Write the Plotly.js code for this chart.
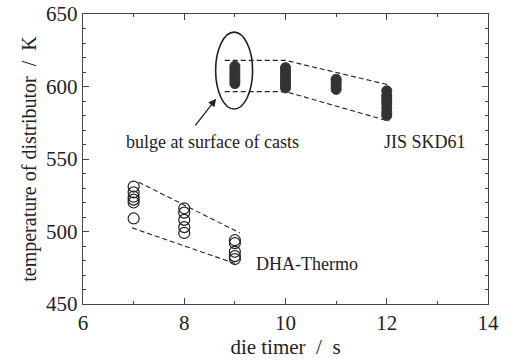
<!DOCTYPE html>
<html><head><meta charset="utf-8">
<script src="https://cdn.plot.ly/plotly-3.0.1.min.js"></script>
<style>body{margin:0;background:#fff}</style></head>
<body><div id="chart" style="width:509px;height:361px"></div>
<script>
// JIS SKD61 (filled)
const skdX = [9,9,9,9,9,9,9, 10,10,10,10,10,10,10,10, 11,11,11,11,11, 12,12,12,12,12,12,12,12];
const skdY = [602,604,606,608,610,612,614, 599,601,603,605,607,609,611,613, 598,600,602,604,605, 580,582,585,588,590,592,594,597];
// DHA-Thermo (open)
const dhaX = [7,7,7,7,7,7, 8,8,8,8,8, 9,9,9,9,9];
const dhaY = [531,527,524,522,520,509, 516,513,508,503,499, 494,492,486,483,481];
// envelope dashed lines
const skdUpperX = [8.8,10,12.05], skdUpperY = [618,618,601];
const skdLowerX = [8.8,10,12.05], skdLowerY = [596.5,596.5,576];
const dhaUpperX = [7.1,9.1], dhaUpperY = [534,499];
const dhaLowerX = [6.97,9.0], dhaLowerY = [502.5,478];
// labels
const labelText = ["bulge at surface of casts","JIS SKD61","DHA-Thermo"];
const labelX = [8.56,12.76,10.43];
const labelY = [561.5,561.5,477.7];

const font = "Liberation Serif, Times New Roman, serif";
const dash = {color:'#222', width:1.1, dash:'5px,3px'};
const traces = [
  {x:skdUpperX,y:skdUpperY,mode:'lines',line:dash,hoverinfo:'skip'},
  {x:skdLowerX,y:skdLowerY,mode:'lines',line:dash,hoverinfo:'skip'},
  {x:dhaUpperX,y:dhaUpperY,mode:'lines',line:dash,hoverinfo:'skip'},
  {x:dhaLowerX,y:dhaLowerY,mode:'lines',line:dash,hoverinfo:'skip'},
  {x:skdX,y:skdY,mode:'markers',marker:{symbol:'circle',size:10,color:'#333',line:{color:'#333',width:1}}},
  {x:dhaX,y:dhaY,mode:'markers',marker:{symbol:'circle-open',size:11,color:'#222',line:{color:'#222',width:1.2}}}
];
const ax = {showline:true, linecolor:'#444', linewidth:1.2, mirror:'ticks', ticks:'inside', ticklen:6, tickcolor:'#444',
  showgrid:false, zeroline:false, tickfont:{family:font,size:21,color:'#222'}};
const layout = {
  width:509, height:361, margin:{l:83,r:21,t:14,b:57},
  paper_bgcolor:'#fff', plot_bgcolor:'#fff', showlegend:false,
  font:{family:font,color:'#222'},
  xaxis:Object.assign({}, ax, {range:[6,14], dtick:2, tick0:6,
    minor:{dtick:1, ticks:'inside', ticklen:3, tickcolor:'#444'},
    title:{text:'die timer  /  s', font:{family:font,size:21,color:'#222'}, standoff:0}}),
  yaxis:Object.assign({}, ax, {range:[450,650], dtick:50, tick0:450,
    minor:{dtick:10, ticks:'inside', ticklen:3, tickcolor:'#444'},
    title:{text:'temperature of distributor  /  K', font:{family:font,size:20,color:'#222'}, standoff:4}}),
  shapes:[{type:'circle', xref:'x', yref:'y', x0:8.62, x1:9.35, y0:584.5, y1:637.5, line:{color:'#222',width:1.6}}],
  annotations:[
    {x:8.63,y:591.5,ax:-22,ay:28,xref:'x',yref:'y',text:'',showarrow:true,arrowhead:2,arrowsize:1.2,arrowwidth:1.3,arrowcolor:'#222'}
  ].concat(labelText.map((t,i)=>({x:labelX[i],y:labelY[i],xref:'x',yref:'y',text:t,showarrow:false,font:{family:font,size:18,color:'#222'}})))
};
Plotly.newPlot('chart', traces, layout, {displayModeBar:false, staticPlot:true});
</script></body></html>
